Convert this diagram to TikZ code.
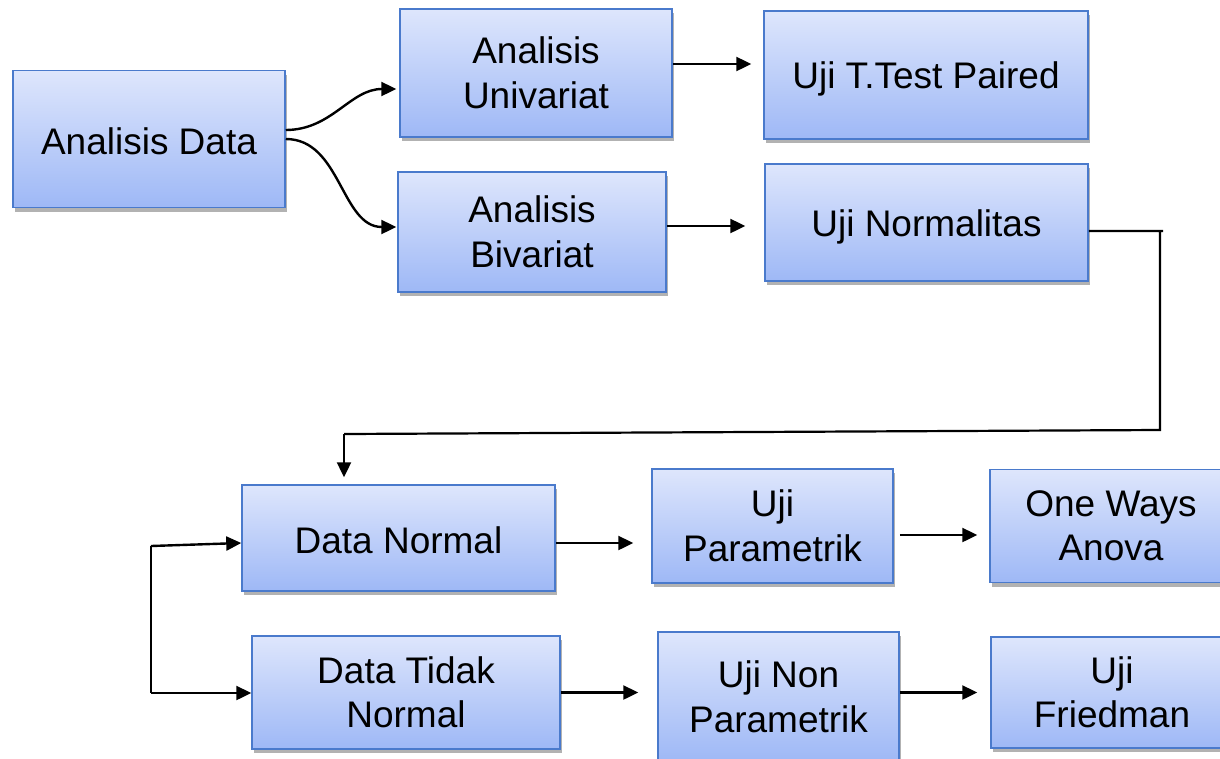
\documentclass[tikz,border=0pt]{standalone}
\usepackage{fontspec}
\setmainfont{Liberation Sans}
\usetikzlibrary{arrows.meta,shadows,calc}
\definecolor{boxtop}{RGB}{222,230,252}
\definecolor{boxbot}{RGB}{158,184,246}
\definecolor{boxline}{RGB}{74,122,204}
\newcommand{\lowtext}[2]{\raisebox{-#1}[\height][\depth]{#2}}
\tikzset{
  box/.style={draw=boxline, line width=1.5pt, top color=boxtop, bottom color=boxbot,
    inner sep=0pt, align=center, font=\fontsize{37}{44.5}\selectfont,
    drop shadow={shadow xshift=2pt, shadow yshift=-4pt, opacity=0.3, fill=black}},
  arr/.style={line width=2.4pt, -{Triangle[length=15pt,width=14pt]}},
  ln/.style={line width=2.2pt}
}
\begin{document}
\begin{tikzpicture}[x=1pt,y=-1pt]
\useasboundingbox (0,0) rectangle (1220,758);
\clip (0,0) rectangle (1220,758);
\node[box, minimum width=272pt, minimum height=137pt] (ad) at (149,139) {\lowtext{2pt}{Analisis Data}};
\node[box, minimum width=272pt, minimum height=128pt] (uni) at (536,73) {Analisis\\Univariat};
\node[box, minimum width=324pt, minimum height=128pt] (tt) at (926,75) {\lowtext{4pt}{Uji T.Test Paired}};
\node[box, minimum width=268pt, minimum height=120pt] (bi) at (532,232) {Analisis\\Bivariat};
\node[box, minimum width=323pt, minimum height=117pt] (nm) at (926.5,222.5) {\lowtext{4pt}{Uji Normalitas}};
\node[box, minimum width=313pt, minimum height=106pt] (dn) at (398.5,538) {\lowtext{2pt}{Data Normal}};
\node[box, minimum width=241pt, minimum height=114pt] (up) at (772.5,526) {Uji\\Parametrik};
\node[box, minimum width=242pt, minimum height=113pt] (ow) at (1111,526) {One Ways\\Anova};
\node[box, minimum width=308pt, minimum height=113pt] (dt) at (406,692.5) {Data Tidak\\Normal};
\node[box, minimum width=241pt, minimum height=130pt] (un) at (778.5,697) {Uji Non\\Parametrik};
\node[box, minimum width=242pt, minimum height=111pt] (uf) at (1112,692.5) {Uji\\Friedman};

% curved connectors
\draw[arr] ([yshift=9pt]ad.east) to[out=0,in=180] ([yshift=-16pt,xshift=-3pt]uni.west);
\draw[arr] (ad.east) to[out=0,in=180] ([yshift=5pt,xshift=-1pt]bi.west);

% straight connectors
\draw[arr, shorten >=12pt] ([yshift=9pt]uni.east) -- ([yshift=9pt]uni.east -| tt.west);
\draw[arr, shorten >=19pt] ([yshift=6pt]bi.east) -- ([yshift=6pt]bi.east -| nm.west);
\draw[arr, shorten >=18pt] ([yshift=-5pt]dn.east) -- ([yshift=-5pt]dn.east -| up.west);
\draw[arr, shorten <=6pt, shorten >=12pt] ([yshift=-9pt]up.east) -- ([yshift=-9pt]up.east -| ow.west);
\draw[arr, shorten >=19pt] (dt.east) -- (dt.east -| un.west);
\draw[arr, shorten >=13pt] (un.east |- dt.east) -- (uf.west |- dt.east);

% from Uji Normalitas down to Data Normal
\coordinate (n1) at (1160,231);
\coordinate (n2) at (1160,430);
\coordinate (n3) at (344,434);
\draw[ln] ([yshift=-8.5pt]nm.east) -- ([xshift=3pt]n1) (n1) -- (n2) -- (n3);
\draw[arr, shorten >=7pt] (n3) -- (n3 |- dn.north);

% left bracket
\coordinate (b1) at (151,546);
\coordinate (b2) at (151,693);
\draw[ln] (b1) -- (b2);
\draw[arr] (b1) -- ([yshift=-5pt]dn.west);
\draw[arr] (b2) -- (b2 -| dt.west);
\end{tikzpicture}
\end{document}
